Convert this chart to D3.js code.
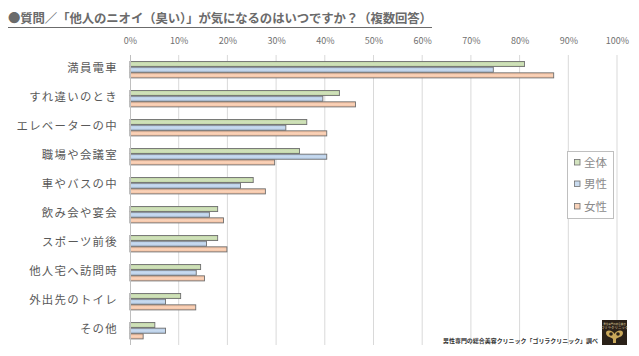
<!DOCTYPE html>
<html><head><meta charset="utf-8">
<script src="https://cdn.jsdelivr.net/npm/d3@7/dist/d3.min.js"></script>
<style>body{margin:0;background:#fff}svg{display:block}text{font-family:"Noto Sans CJK JP","Noto Sans",sans-serif}</style>
</head><body>
<svg id="c" width="639" height="356"></svg>
<script>
const categories = ["満員電車","すれ違いのとき","エレベーターの中","職場や会議室","車やバスの中","飲み会や宴会","スポーツ前後","他人宅へ訪問時","外出先のトイレ","その他"];
const seriesNames = ["全体","男性","女性"];
const zentai = [81.0,43.0,36.3,34.8,25.3,18.0,18.0,14.5,10.4,5.1];
const dansei = [74.6,39.6,32.0,40.4,22.7,16.3,15.7,13.6,7.3,7.3];
const josei  = [87.0,46.3,40.4,29.7,27.8,19.2,19.9,15.3,13.5,2.7];
const tickValues = [0,10,20,30,40,50,60,70,80,90,100];
const title = "●質問／「他人のニオイ（臭い）」が気になるのはいつですか？（複数回答）";
const source = "男性専門の総合美容クリニック「ゴリラクリニック」調べ";

const seriesValues = [zentai, dansei, josei];
const fills = ["#d3e3bf","#c9dbef","#f9d3ba"];
const fillsDark = ["#bcd49f","#b0c9e6","#f4bd9c"];

const svg = d3.select("#c");
const defs = svg.append("defs");
fills.forEach((f,i)=>{
  const g = defs.append("linearGradient").attr("id","g"+i).attr("x1",0).attr("y1",0).attr("x2",0).attr("y2",1);
  g.append("stop").attr("offset","0%").attr("stop-color",fillsDark[i]);
  g.append("stop").attr("offset","50%").attr("stop-color",f);
  g.append("stop").attr("offset","100%").attr("stop-color",fillsDark[i]);
});

// title
svg.append("text").attr("x",8).attr("y",23).attr("font-size",12.4).attr("fill","#6b6b6b").attr("font-weight","bold")
  .attr("textLength",424).attr("lengthAdjust","spacing").text(title);
svg.append("line").attr("x1",8).attr("x2",432).attr("y1",27.5).attr("y2",27.5).attr("stroke","#6b6b6b").attr("stroke-width",1.2);

const x = d3.scaleLinear().domain([0,100]).range([130,617]);
const y = d3.scaleBand().domain(categories).range([55,345]).paddingInner(0).paddingOuter(0);
const groupH = 17;
const ys = d3.scaleBand().domain(seriesNames).range([0,groupH]);

// gridlines
svg.append("g").selectAll("line").data(tickValues.slice(1)).join("line")
  .attr("x1",d=>x(d)).attr("x2",d=>x(d)).attr("y1",55).attr("y2",345)
  .attr("stroke","#d9d9d9").attr("stroke-width",1);

// top axis
const ax = svg.append("g").attr("transform","translate(0,48)")
  .call(d3.axisTop(x).tickValues(tickValues).tickFormat(d=>d+"%").tickSize(0).tickPadding(4));
ax.select(".domain").remove();
ax.selectAll("text").attr("font-size",9).attr("fill","#707070").attr("font-family","'Liberation Sans',sans-serif");

// bars
categories.forEach((c,ci)=>{
  const off = y(c) + (y.bandwidth()-groupH)/2;
  seriesNames.forEach((s,si)=>{
    svg.append("rect")
      .attr("x",x(0)).attr("y",off+ys(s)+0.5)
      .attr("width",x(seriesValues[si][ci])-x(0)).attr("height",ys.bandwidth()-0.6)
      .attr("fill","url(#g"+si+")").attr("stroke","#6f6f6f").attr("stroke-width",0.9);
  });
});

// category axis line
svg.append("line").attr("x1",130.5).attr("x2",130.5).attr("y1",55).attr("y2",345).attr("stroke","#bfbfbf");

// category labels
const ay = svg.append("g").attr("transform","translate(130,0)")
  .call(d3.axisLeft(y).tickSize(0).tickPadding(12));
ay.select(".domain").remove();
ay.selectAll("text").attr("font-size",11.4).attr("fill","#595959").attr("letter-spacing","1.3px")
  .attr("font-family","'Noto Sans CJK JP',sans-serif").attr("dy","0.2em");

// legend
svg.append("rect").attr("x",567.5).attr("y",151.5).attr("width",46).attr("height",67)
  .attr("fill","#fff").attr("stroke","#bfbfbf");
const ly = [162.5,184,206.5];
seriesNames.forEach((s,i)=>{
  svg.append("rect").attr("x",574.5).attr("y",ly[i]-3).attr("width",5.5).attr("height",5.5)
    .attr("fill",fills[i]).attr("stroke","#6f6f6f").attr("stroke-width",0.8);
  svg.append("text").attr("x",584).attr("y",ly[i]).attr("dy","0.36em").attr("font-size",11.5)
    .attr("fill","#8a8a8a").text(s);
});

// source
svg.append("text").attr("x",598).attr("y",343).attr("text-anchor","end").attr("font-size",6)
  .attr("font-weight","bold").attr("fill","#333").attr("textLength",155).attr("lengthAdjust","spacingAndGlyphs").text(source);

// logo
const lg = svg.append("g").attr("transform","translate(602,320)");
lg.append("rect").attr("width",25).attr("height",25).attr("fill","#2a2118");
lg.append("text").attr("x",12.5).attr("y",5).attr("text-anchor","middle").attr("font-size",2.5).attr("fill","#d8c79a").text("男性専門の総合美容");
lg.append("text").attr("x",12.5).attr("y",9).attr("text-anchor","middle").attr("font-size",3.5).attr("fill","#e8dcb0").text("ゴリラクリニック");
lg.append("path").attr("d","M4,13 C4,9 11,10 12.5,14 C14,10 21,9 21,13 C21,17 16,17 14,19 L14,23 L11,23 L11,19 C9,17 4,17 4,13 Z")
  .attr("fill","#c9a85a");
lg.append("circle").attr("cx",9).attr("cy",14).attr("r",1.8).attr("fill","#2a2118");
lg.append("circle").attr("cx",16).attr("cy",14).attr("r",1.8).attr("fill","#2a2118");
</script>
</body></html>
